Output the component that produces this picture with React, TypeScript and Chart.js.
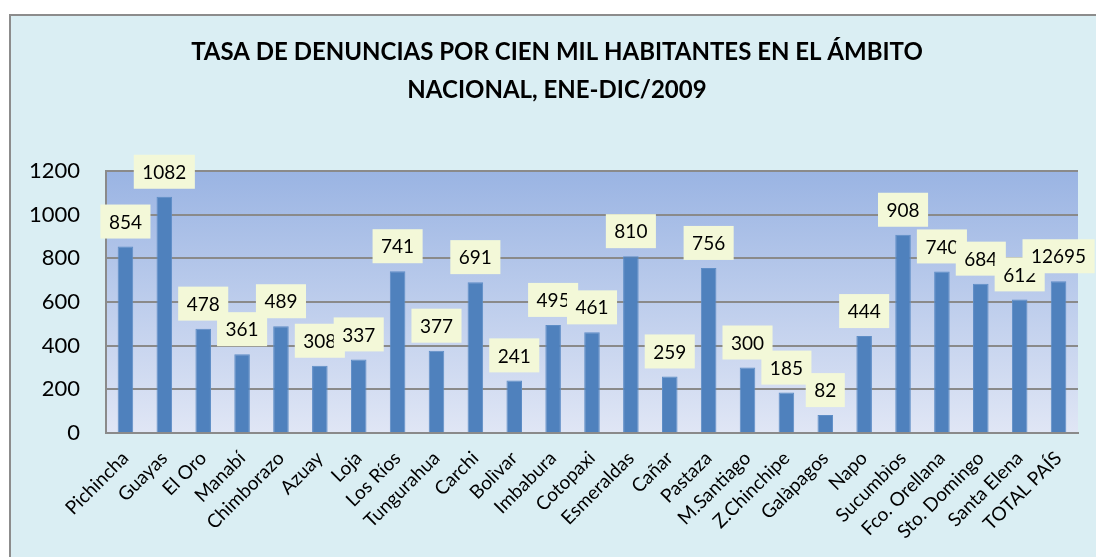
import React, { useEffect, useRef } from "react";
import { Chart, registerables } from "chart.js";

Chart.register(...registerables);

const titleLines = [
  "TASA DE DENUNCIAS POR CIEN MIL HABITANTES EN EL ÁMBITO",
  "NACIONAL, ENE-DIC/2009",
];

const categories = [
  "Pichincha", "Guayas", "El Oro", "Manabí", "Chimborazo", "Azuay", "Loja",
  "Los Ríos", "Tungurahua", "Carchi", "Bolìvar", "Imbabura", "Cotopaxi",
  "Esmeraldas", "Cañar", "Pastaza", "M.Santiago", "Z.Chinchipe", "Galàpagos",
  "Napo", "Sucumbìos", "Fco. Orellana", "Sto. Domingo", "Santa Elena", "TOTAL PAÍS",
];

const values = [
  854, 1082, 478, 361, 489, 308, 337, 741, 377, 691, 241, 495, 461, 810, 259,
  756, 300, 185, 82, 444, 908, 740, 684, 612, 695,
];

const valueLabels = [
  "854", "1082", "478", "361", "489", "308", "337", "741", "377", "691", "241",
  "495", "461", "810", "259", "756", "300", "185", "82", "444", "908", "740",
  "684", "612", "12695",
];

const yTicks = [0, 200, 400, 600, 800, 1000, 1200];

const FONT = "Lato, 'Open Sans', sans-serif";

export default function App() {
  const canvasRef = useRef<HTMLCanvasElement | null>(null);

  useEffect(() => {
    const canvas = canvasRef.current;
    if (!canvas) return;

    const plotBg = {
      id: "plotBg",
      beforeDraw(chart: any) {
        const { ctx, chartArea } = chart;
        if (!chartArea) return;
        const g = ctx.createLinearGradient(0, chartArea.top, 0, chartArea.bottom);
        g.addColorStop(0, "#9AB4E3");
        g.addColorStop(1, "#E0E6F5");
        ctx.save();
        ctx.fillStyle = g;
        ctx.fillRect(chartArea.left, chartArea.top, chartArea.right - chartArea.left, chartArea.bottom - chartArea.top);
        ctx.restore();
      },
    };

    const titlePlugin = {
      id: "twoLineTitle",
      afterDraw(chart: any) {
        const { ctx } = chart;
        ctx.save();
        ctx.fillStyle = "#000";
        ctx.font = `bold 24px ${FONT}`;
        ctx.textAlign = "center";
        ctx.textBaseline = "middle";
        ctx.fillText(titleLines[0], 557, 52);
        ctx.fillText(titleLines[1], 557, 90);
        ctx.restore();
      },
    };

    const labelPlugin = {
      id: "boxLabels",
      afterDatasetsDraw(chart: any) {
        const { ctx } = chart;
        const meta = chart.getDatasetMeta(0);
        ctx.save();
        ctx.font = `19px ${FONT}`;
        ctx.textAlign = "center";
        ctx.textBaseline = "middle";
        meta.data.forEach((el: any, i: number) => {
          const txt = valueLabels[i];
          const w = ctx.measureText(txt).width + 17;
          const h = 34;
          const bottom = el.y - 8;
          ctx.fillStyle = "#F3F8D8";
          ctx.fillRect(el.x - w / 2, bottom - h, w, h);
          ctx.fillStyle = "#000";
          ctx.fillText(txt, el.x, bottom - h / 2 + 1);
        });
        ctx.restore();
      },
    };

    const chart = new Chart(canvas, {
      type: "bar",
      data: {
        labels: categories,
        datasets: [
          {
            data: values,
            backgroundColor: "#4F81BD",
            borderColor: "#5E8DC6",
            borderWidth: 1,
            categoryPercentage: 1,
            barPercentage: 0.4,
          },
        ],
      },
      options: {
        responsive: false,
        animation: false,
        layout: { padding: { top: 171, left: 0, right: 18, bottom: 0 } },
        plugins: {
          legend: { display: false },
          tooltip: { enabled: false },
          title: { display: false },
        },
        scales: {
          x: {
            grid: { display: false },
            border: { display: true, color: "#8A8A8A", width: 2 },
            ticks: {
              color: "#000",
              font: { family: FONT, size: 19 },
              minRotation: 45,
              maxRotation: 45,
              autoSkip: false,
              padding: 6,
            },
            afterFit(scale: any) {
              scale.height = 124;
            },
          },
          y: {
            min: 0,
            max: 1200,
            afterBuildTicks(scale: any) {
              scale.ticks = yTicks.map((v) => ({ value: v }));
            },
            grid: { color: "#8A8A8A", lineWidth: 2, drawTicks: false },
            border: { display: true, color: "#8A8A8A", width: 2 },
            ticks: {
              color: "#000",
              font: { family: FONT, size: 22 },
              padding: 26,
              callback: (v: any) => String(v),
            },
            afterFit(scale: any) {
              scale.width = 106;
            },
          },
        },
      },
      plugins: [plotBg, labelPlugin, titlePlugin],
    });

    return () => chart.destroy();
  }, []);

  return (
    <div style={{ position: "fixed", left: 0, top: 0, width: 1096, height: 557, overflow: "hidden", background: "#fff" }}>
      <div
        style={{
          position: "absolute",
          left: 9,
          top: 14,
          width: 1100,
          height: 560,
          background: "#DAEEF3",
          borderTop: "2px solid #8C8C8C",
          borderLeft: "2px solid #8C8C8C",
        }}
      />
      <canvas ref={canvasRef} width={1096} height={557} style={{ position: "absolute", left: 0, top: 0 }} />
    </div>
  );
}
